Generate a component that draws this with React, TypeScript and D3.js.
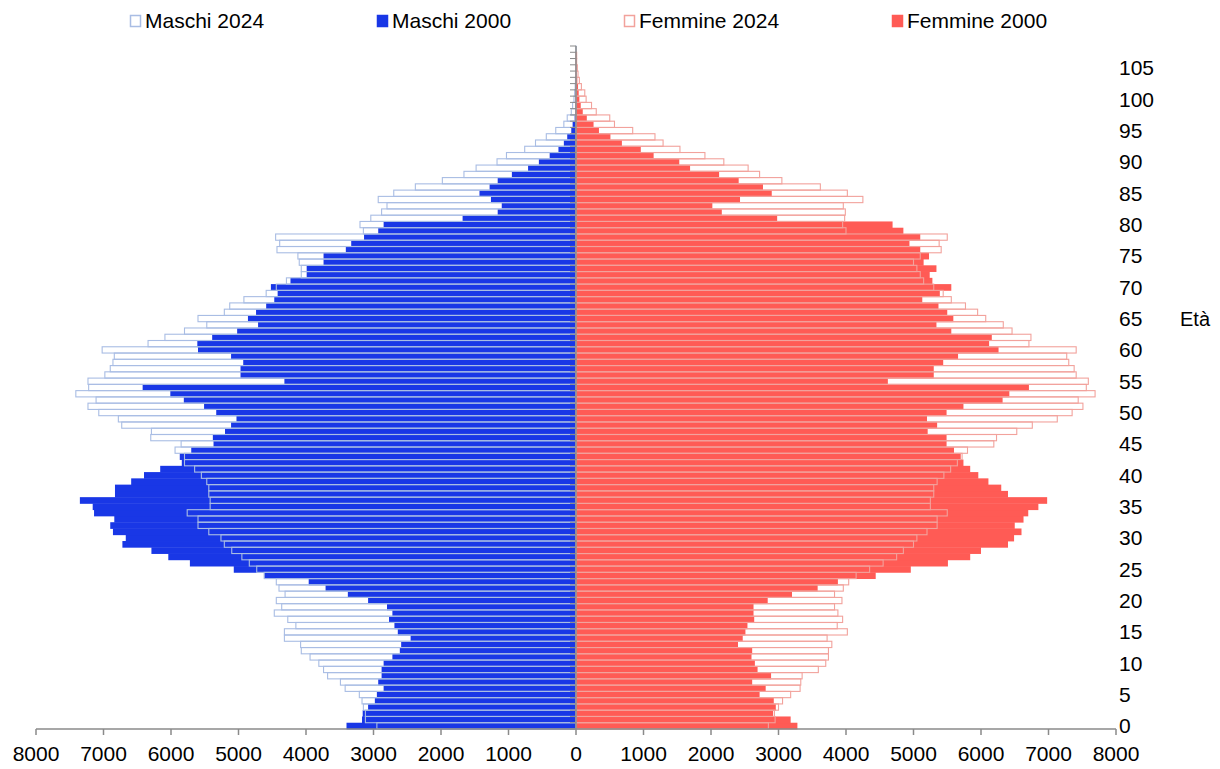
import React from "react";
import * as d3 from "d3";

const ages: number[] = d3.range(0, 109);

const maschi2024: number[] = [
  2950, 3120, 3120, 3150, 3170, 3210, 3420, 3490, 3680, 3740,
  3810, 3940, 4070, 4080, 4320, 4320, 4150, 4270, 4470, 4360,
  4440, 4310, 4400, 4440, 4620, 4730, 4840, 4950, 5100, 5210,
  5260, 5440, 5600, 5600, 5760, 5420, 5420, 5440, 5440, 5470,
  5550, 5650, 5800, 5800, 5940, 5850, 6300, 6290, 6730, 6780,
  7070, 7230, 7110, 7410, 7220, 7230, 6980, 6900, 6860, 6840,
  7020, 6340, 6090, 5800, 5470, 5600, 5210, 5130, 4920, 4590,
  4440, 4290, 4070, 4070, 4100, 4120, 4430, 4390, 4450, 3150,
  3200, 3040, 2880, 2800, 2930, 2700, 2380, 1980, 1660, 1480,
  1170, 1030, 760, 600, 440, 300, 180, 130, 70, 50,
  30, 20, 12, 8, 5, 3, 2, 1, 1,
];

const maschi2000: number[] = [
  3400, 3170, 3160, 3080, 2980, 2950, 2850, 2930, 2880, 2880,
  2850, 2720, 2610, 2590, 2450, 2640, 2690, 2770, 2720, 2800,
  3080, 3380, 3710, 3960, 4620, 5070, 5720, 6040, 6290, 6720,
  6670, 6860, 6900, 6840, 7140, 7160, 7350, 6830, 6830, 6590,
  6400, 6160, 5840, 5870, 5700, 5370, 5380, 5200, 5110, 5030,
  5330, 5510, 5810, 6010, 6420, 4320, 4970, 4970, 4930, 5110,
  5600, 5610, 5390, 5020, 4710, 4860, 4740, 4590, 4470, 4420,
  4520, 4230, 3990, 3990, 3740, 3740, 3410, 3330, 3140, 2930,
  2850, 1680, 1160, 1100, 1260, 1430, 1280, 1160, 950, 710,
  550, 390, 260, 180, 130, 70, 50, 20, 10, 10,
  5, 3, 2, 2, 1, 1, 1, 0, 0,
];

const femmine2024: number[] = [
  2850, 2950, 2940, 3000, 3060, 3180, 3320, 3330, 3350, 3590,
  3700, 3740, 3740, 3790, 3720, 4020, 3870, 3950, 3880, 3830,
  3940, 3830, 3960, 4040, 4150, 4350, 4550, 4750, 4850, 5000,
  5050, 5200, 5350, 5350, 5500, 5250, 5250, 5300, 5300, 5350,
  5450, 5550, 5650, 5720, 5800, 6190, 6230, 6530, 6760, 7130,
  7350, 7510, 7440, 7690, 7560, 7590, 7410, 7380, 7300, 7270,
  7410, 6710, 6740, 6460, 6330, 6070, 5950, 5770, 5560, 5440,
  5300, 5150, 5100, 5050, 5000, 5100, 5410, 5380, 5500, 4000,
  3950, 3980, 3990, 3960, 4250, 4020, 3620, 3050, 2720, 2550,
  2190, 1910, 1540, 1290, 1170, 840, 570, 500, 300, 230,
  150, 130, 80, 50, 30, 20, 10, 10, 0,
];

const femmine2000: number[] = [
  3280, 3180, 2920, 2960, 2930, 2720, 2810, 2610, 2890, 2690,
  2650, 2600, 2610, 2400, 2470, 2510, 2540, 2640, 2630, 2630,
  2840, 3200, 3580, 3880, 4440, 4960, 5510, 5840, 6000, 6400,
  6490, 6600, 6500, 6630, 6700, 6850, 6980, 6400, 6300, 6110,
  5960, 5840, 5740, 5700, 5600, 5490, 5490, 5210, 5350, 5200,
  5490, 5740, 6320, 6420, 6710, 4620, 5300, 5300, 5440, 5660,
  6260, 6120, 6160, 5560, 5340, 5590, 5500, 5370, 5130, 5390,
  5560, 5280, 5240, 5340, 5150, 5230, 5100, 4940, 5100, 4850,
  4690, 2980, 2160, 2020, 2430, 2900, 2770, 2410, 2120, 1690,
  1530, 1150, 960, 680, 510, 340, 260, 160, 100, 70,
  50, 40, 30, 20, 10, 10, 5, 5, 0,
];

const xTicks: number[] = d3.range(-8000, 8001, 1000);
const ageLabels: number[] = d3.range(0, 106, 5);
const legendItems = [
  { label: "Maschi 2024", key: "m24" },
  { label: "Maschi 2000", key: "m00" },
  { label: "Femmine 2024", key: "f24" },
  { label: "Femmine 2000", key: "f00" },
];

const BLUE = "#1937e6";
const RED = "#ff5b55";
const M24 = "#a9bde4";
const F24 = "#f2a29c";
const GRAY = "#8a8a8a";
const FONT = "'Liberation Sans', Arial, sans-serif";

export default function App() {
  const left = 36, right = 1116, top = 46, bottom = 729;
  const x = d3.scaleLinear().domain([-8000, 8000]).range([left, right]);
  const x0 = x(0);
  const y = d3.scaleBand<number>().domain(ages).range([bottom, top]).padding(0);
  const bw = y.bandwidth();

  const styleFor: Record<string, { fill: string; stroke: string }> = {
    m24: { fill: "#fff", stroke: M24 },
    m00: { fill: BLUE, stroke: BLUE },
    f24: { fill: "#fff", stroke: F24 },
    f00: { fill: RED, stroke: RED },
  };
  const legendX = [130, 377, 624, 892];

  return (
    <svg width={1220} height={769} style={{ position: "absolute", left: 0, top: 0, background: "#fff" }} fontFamily={FONT}>
      {/* 2000 filled bars */}
      {ages.map((a, i) => (
        <rect key={"m00" + a} x={x(-maschi2000[i])} y={y(a) as number} width={x0 - x(-maschi2000[i])} height={bw + 0.4} fill={BLUE} />
      ))}
      {ages.map((a, i) => (
        <rect key={"f00" + a} x={x0} y={y(a) as number} width={x(femmine2000[i]) - x0} height={bw + 0.4} fill={RED} />
      ))}
      {/* 2024 outline bars */}
      {ages.map((a, i) => maschi2024[i] > 0 ? (
        <rect key={"m24" + a} x={x(-maschi2024[i])} y={y(a) as number} width={x0 - x(-maschi2024[i])} height={bw} fill="none" stroke={M24} strokeWidth={1.1} />
      ) : null)}
      {ages.map((a, i) => femmine2024[i] > 0 ? (
        <rect key={"f24" + a} x={x0} y={y(a) as number} width={x(femmine2024[i]) - x0} height={bw} fill="none" stroke={F24} strokeWidth={1.1} />
      ) : null)}

      {/* center axis with ticks */}
      <line x1={x0} x2={x0} y1={top} y2={bottom} stroke={GRAY} strokeWidth={1.5} />
      {d3.range(0, ages.length + 1).map((k) => (
        <line key={"ct" + k} x1={x0 - 6} x2={x0} y1={bottom - k * bw} y2={bottom - k * bw} stroke={GRAY} strokeWidth={1} />
      ))}

      {/* bottom axis */}
      <line x1={left} x2={right} y1={bottom} y2={bottom} stroke={GRAY} strokeWidth={1.5} />
      {xTicks.map((t) => (
        <g key={"xt" + t}>
          <line x1={x(t)} x2={x(t)} y1={bottom} y2={bottom + 6} stroke={GRAY} strokeWidth={1.5} />
          <text x={x(t)} y={761} textAnchor="middle" fontSize={21} fill="#000">{Math.abs(t)}</text>
        </g>
      ))}

      {/* age labels */}
      {ageLabels.map((a) => (
        <text key={"al" + a} x={1119} y={(y(a) as number) + bw / 2} dy="0.35em" fontSize={21} fill="#000">{a}</text>
      ))}
      <text x={1180} y={(y(65) as number) + bw / 2} dy="0.35em" fontSize={20} fill="#000">Età</text>

      {/* legend */}
      {legendItems.map((it, i) => (
        <g key={it.key}>
          <rect x={legendX[i] + 0.5} y={15.5} width={10} height={11} fill={styleFor[it.key].fill} stroke={styleFor[it.key].stroke} strokeWidth={1.5} />
          <text x={legendX[i] + 15} y={28} fontSize={21} fill="#000">{it.label}</text>
        </g>
      ))}
    </svg>
  );
}
